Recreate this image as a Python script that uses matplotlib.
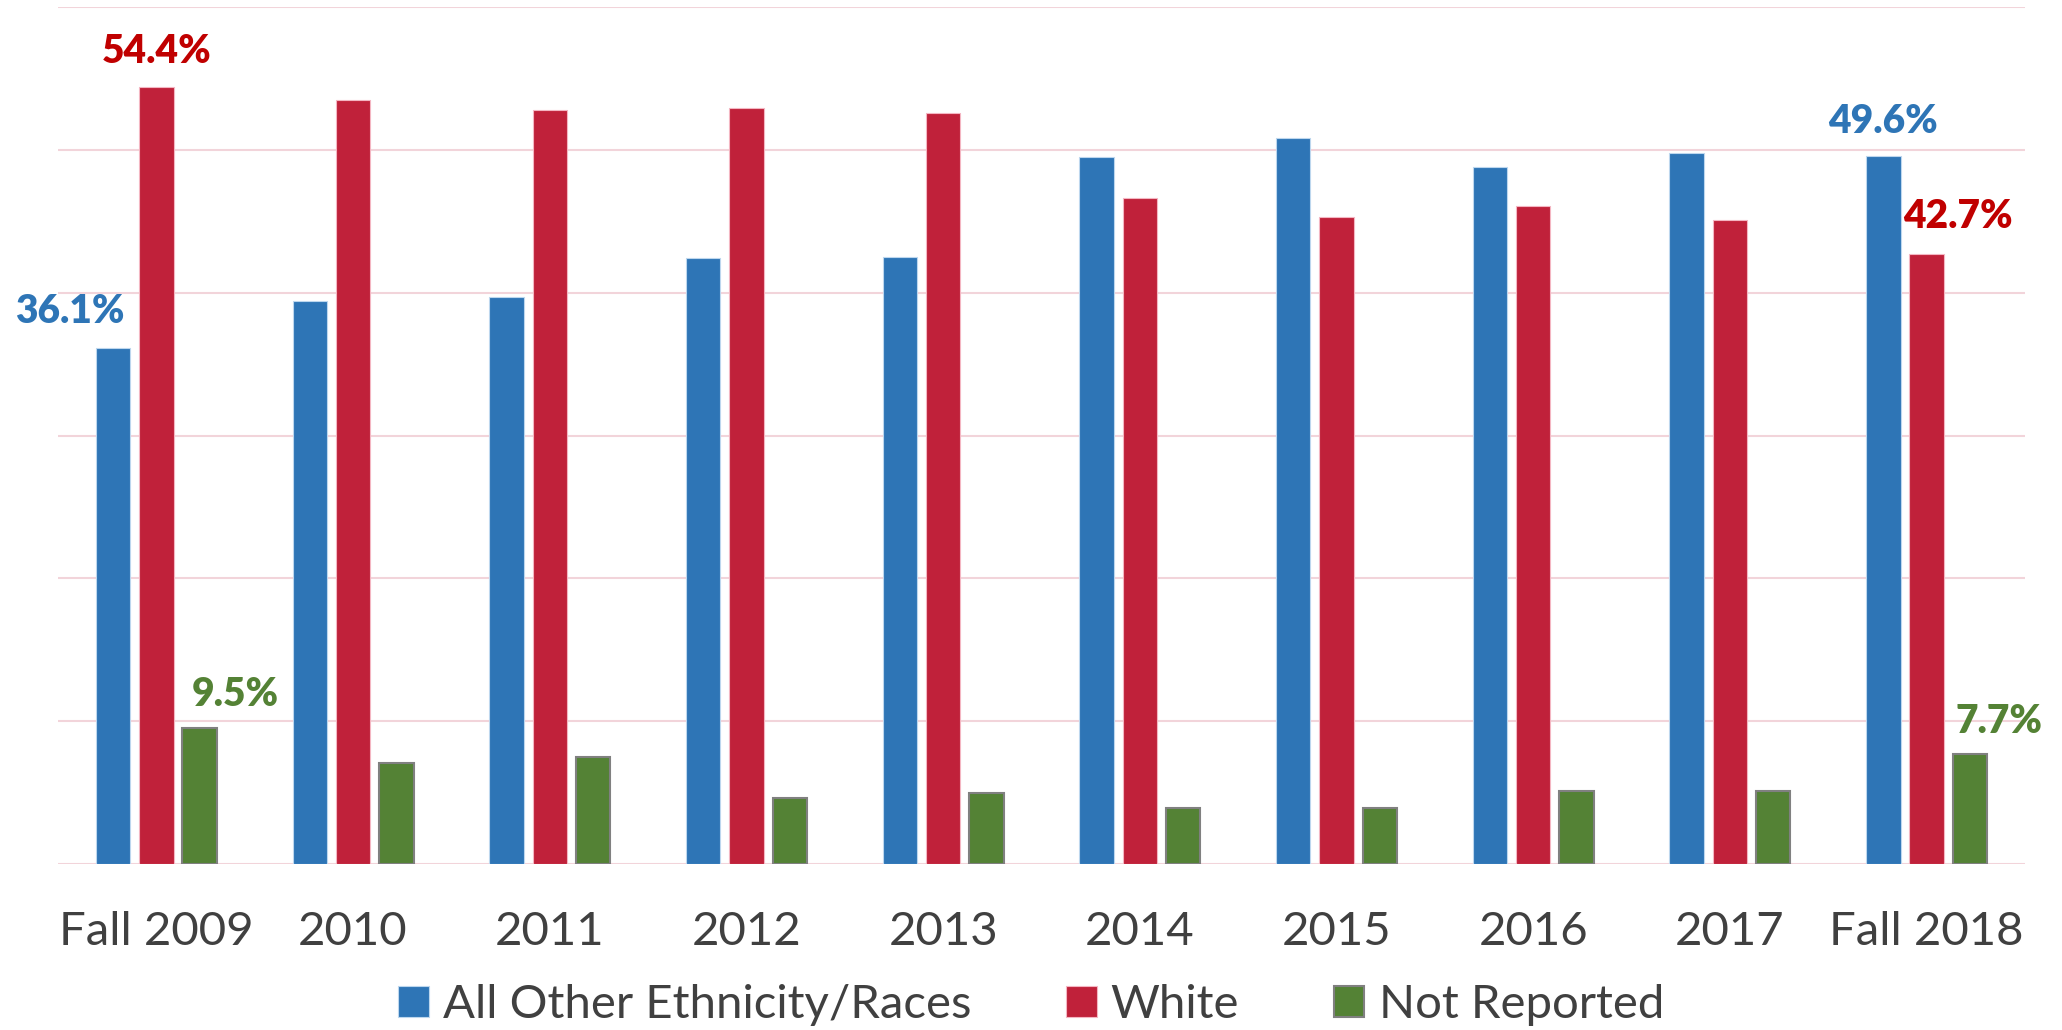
import numpy as np
import matplotlib.pyplot as plt

BLUE = '#2E75B6'
RED = '#C0213A'
GREEN = '#548235'
TEXT = '#404040'

years = ['Fall 2009', '2010', '2011', '2012', '2013', '2014', '2015', '2016', '2017', 'Fall 2018']
other = [36.1, 39.4, 39.7, 42.4, 42.5, 49.5, 50.8, 48.8, 49.8, 49.6]
white = [54.4, 53.5, 52.8, 52.9, 52.6, 46.6, 45.3, 46.1, 45.1, 42.7]
not_reported = [9.5, 7.1, 7.5, 4.6, 5.0, 3.9, 3.9, 5.1, 5.1, 7.7]

plt.rcParams['font.family'] = ['Lato', 'DejaVu Sans']

fig = plt.figure(figsize=(20.62, 10.30), dpi=100)
ax = fig.add_axes([58 / 2062, 166 / 1030, 1967 / 2062, 857 / 1030])

x = np.arange(len(years))
w = 0.175
off = 0.22
ax.bar(x - off, other, w, color=BLUE, edgecolor='#BDD7EE', linewidth=0.8,
       label='All Other Ethnicity/Races', zorder=3)
ax.bar(x, white, w, color=RED, edgecolor='#F4B6C2', linewidth=0.8,
       label='White', zorder=3)
ax.bar(x + off, not_reported, w, color=GREEN, edgecolor='#808080', linewidth=1.5,
       label='Not Reported', zorder=3)

ax.set_xlim(-0.5, len(years) - 0.5)
ax.set_ylim(0, 60)
ax.set_yticks(np.arange(0, 61, 10))
ax.set_yticklabels([])
ax.grid(axis='y', color='#F2D4DA', linewidth=1.5, zorder=0)
ax.tick_params(axis='y', length=0)
ax.tick_params(axis='x', length=0, pad=34, labelsize=34, labelcolor=TEXT)
ax.set_xticks(x)
ax.set_xticklabels(years)
for s in ax.spines.values():
    s.set_visible(False)

# data labels for first and last year only
lbl = dict(fontsize=28, fontweight='heavy', ha='center', va='center', zorder=5)
ax.text(0 - 0.44, other[0] + 2.6, f'{other[0]:.1f}%', color=BLUE, **lbl)
ax.text(0, white[0] + 2.5, f'{white[0]:.1f}%', color='#C00000', **lbl)
ax.text(0 + 0.40, not_reported[0] + 2.4, f'{not_reported[0]:.1f}%', color=GREEN,
        bbox=dict(facecolor='white', edgecolor='none', pad=2), **lbl)
ax.text(9 - off, other[9] + 2.4, f'{other[9]:.1f}%', color=BLUE, **lbl)
ax.text(9 + 0.16, white[9] + 2.6, f'{white[9]:.1f}%', color='#C00000', **lbl)
ax.text(9 + 0.37, not_reported[9] + 2.3, f'{not_reported[9]:.1f}%', color=GREEN, **lbl)

leg = fig.legend(loc='center', bbox_to_anchor=(0.5, 25 / 1030), ncol=3, frameon=False,
                 fontsize=34, handlelength=0.65, handleheight=0.65, handletextpad=0.3,
                 columnspacing=2.0, labelcolor=TEXT)

fig.savefig('out.png', dpi=100)
